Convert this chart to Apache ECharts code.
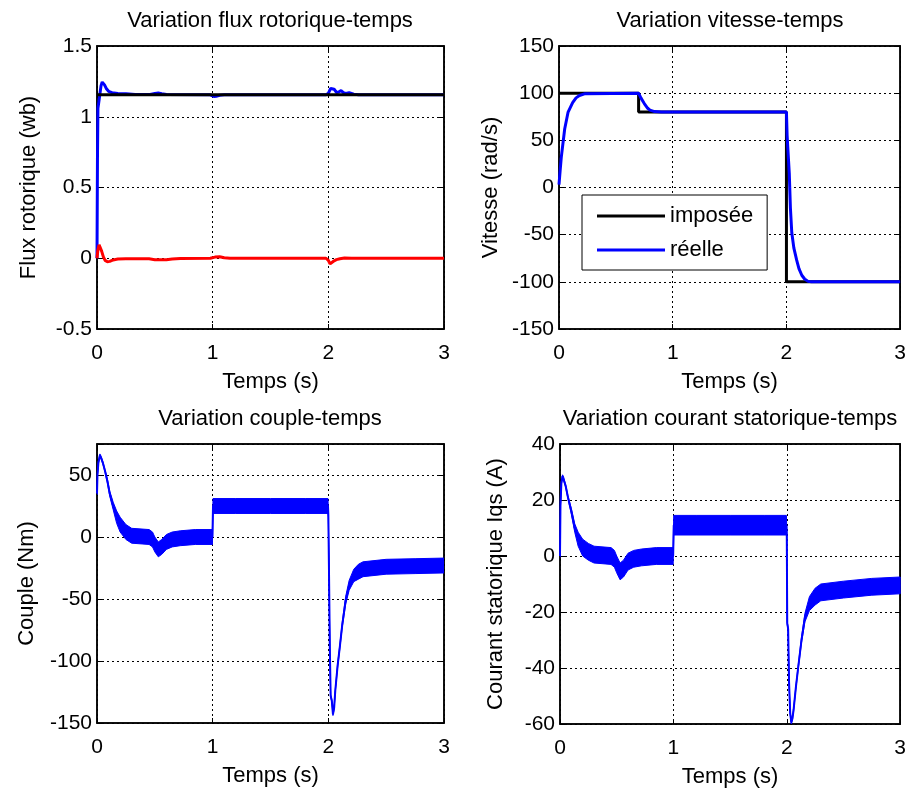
<!DOCTYPE html>
<html><head><meta charset="utf-8">
<script src="https://cdn.jsdelivr.net/npm/echarts@6/dist/echarts.min.js"></script>
<style>html,body{margin:0;padding:0;background:#fff}#c{width:909px;height:789px}</style>
</head><body><div id="c"></div>
<script>
// ---------- data ----------
const fluxRefT = [0, 3];
const fluxRefV = [1.155, 1.155];
const fluxDT = [0, 0.004, 0.008, 0.015, 0.025, 0.035, 0.045, 0.055, 0.065, 0.08, 0.1, 0.13, 0.18, 0.25, 0.33, 0.46, 0.5, 0.53, 0.56, 0.6, 0.98, 1.01, 1.03, 1.06, 1.1, 1.98, 2.0, 2.02, 2.035, 2.05, 2.07, 2.09, 2.11, 2.13, 2.15, 2.18, 2.22, 2.26, 3.0];
const fluxDV = [0, 0.7, 1.06, 1.1, 1.16, 1.22, 1.245, 1.24, 1.225, 1.2, 1.18, 1.17, 1.165, 1.163, 1.158, 1.157, 1.165, 1.168, 1.163, 1.157, 1.155, 1.143, 1.145, 1.152, 1.155, 1.155, 1.165, 1.2, 1.21, 1.195, 1.172, 1.175, 1.185, 1.17, 1.165, 1.17, 1.16, 1.155, 1.155];
const fluxQT = [0, 0.008, 0.018, 0.028, 0.04, 0.055, 0.07, 0.09, 0.11, 0.14, 0.18, 0.25, 0.45, 0.5, 0.55, 0.6, 0.65, 0.72, 0.98, 1.02, 1.06, 1.1, 1.15, 1.98, 2.0, 2.015, 2.03, 2.05, 2.07, 2.1, 2.14, 2.2, 3.0];
const fluxQV = [0, 0.06, 0.095, 0.09, 0.05, 0.01, -0.015, -0.025, -0.022, -0.012, -0.006, -0.003, -0.004, -0.01, -0.011, -0.01, -0.006, -0.002, 0, 0.008, 0.01, 0.003, 0, 0, -0.015, -0.04, -0.035, -0.018, -0.01, -0.004, 0.002, 0, 0];

const speedRefT = [0, 0.7, 0.7, 2, 2, 3];
const speedRefV = [100, 100, 80, 80, -100, -100];
const speedT = [0, 0.01, 0.02, 0.03, 0.05, 0.08, 0.1, 0.12, 0.15, 0.18, 0.23, 0.7, 0.72, 0.75, 0.78, 0.8, 0.84, 0.9, 2.0, 2.006, 2.012, 2.025, 2.035, 2.047, 2.065, 2.09, 2.11, 2.135, 2.16, 2.19, 2.22, 3.0];
const speedV = [3, 18, 32, 42, 62, 80, 85, 90, 95, 97.5, 99.5, 100, 95, 89, 84, 82, 80.5, 80, 80, 55, 42, 15, -22, -48, -64, -77, -86, -93, -97, -99.5, -100, -100];

const torqueT = [0, 0.004, 0.012, 0.025, 0.035, 0.05, 0.07, 0.09, 0.11, 0.14, 0.17, 0.2, 0.25, 0.3, 0.45, 0.48, 0.5, 0.53, 0.56, 0.6, 0.65, 0.72, 0.85, 0.998, 1.003, 1.2, 1.5, 1.8, 1.997, 2.0, 2.006, 2.013, 2.02, 2.03, 2.04, 2.05, 2.06, 2.08, 2.1, 2.12, 2.15, 2.18, 2.22, 2.26, 2.3, 2.5, 2.75, 3.0];
const torqueV = [35, 50, 60, 66, 64, 60, 53, 45, 35, 25, 16, 10, 4, 1, 0, -2, -6, -10, -8, -4, -2, -1, 0, 0, 25, 25, 25, 25, 25, 18, -30, -90, -128, -132, -143, -138, -124, -104, -88, -71, -51, -39, -31, -28, -26, -24, -23.5, -23];
const torqueRipple = [1, 1, 1, 1, 1, 1, 1, 1.5, 2, 3, 5, 6, 6, 6, 6, 6, 6, 6, 6, 6, 6, 6, 6, 6, 6, 6, 6, 6, 6, 2, 1, 1, 1, 1, 1, 1, 1, 1.5, 1.5, 2, 3, 4, 5, 6, 6, 6, 6, 6];

const currentT = [0, 0.004, 0.012, 0.022, 0.03, 0.05, 0.07, 0.1, 0.13, 0.16, 0.2, 0.25, 0.3, 0.45, 0.48, 0.5, 0.53, 0.56, 0.6, 0.65, 0.72, 0.85, 0.998, 1.003, 1.2, 1.5, 1.8, 1.997, 2.0, 2.004, 2.012, 2.02, 2.03, 2.04, 2.05, 2.06, 2.08, 2.1, 2.13, 2.16, 2.2, 2.25, 2.3, 2.5, 2.75, 3.0];
const currentV = [0, 18, 26, 28.5, 28, 25, 21, 16, 10, 6, 3, 1.5, 0.5, 0, -1, -3, -5.5, -4.5, -2, -1, -0.5, 0, 0, 11, 11, 11, 11, 11, 8, -24, -26, -45, -56, -59.5, -58, -55, -47, -40, -30, -22, -17, -14.5, -13, -12, -11, -10.5];
const currentRipple = [0.5, 0.5, 0.5, 0.5, 0.5, 0.5, 0.5, 1, 1.5, 2.5, 3, 3, 3, 3, 3, 3, 3, 3, 3, 3, 3, 3, 3, 3.5, 3.5, 3.5, 3.5, 3.5, 1, 0.5, 0.5, 0.5, 0.5, 0.5, 0.5, 0.5, 0.5, 0.7, 1, 1.5, 2.5, 3, 3, 3, 3, 3];

const titles = ['Variation flux rotorique-temps', 'Variation vitesse-temps', 'Variation couple-temps', 'Variation courant statorique-temps'];
const yNames = ['Flux rotorique (wb)', 'Vitesse (rad/s)', 'Couple (Nm)', 'Courant statorique Iqs (A)'];
const xName = 'Temps (s)';
const yRanges = [[-0.5, 1.5, 0.5], [-150, 150, 50], [-150, 75, 50], [-60, 40, 20]];
const xRange = [0, 3, 1];
const legendNames = ['imposée', 'réelle'];

// ---------- layout / style ----------
const FONT = "'Liberation Sans', Arial, sans-serif";
const FS = 22;     // titles, axis names, legend
const FT = 21;     // tick labels
const grids = [
  {left: 97, top: 46, width: 347, height: 283},
  {left: 559, top: 46, width: 343, height: 283},
  {left: 97, top: 444, width: 347, height: 279},
  {left: 560, top: 444, width: 341, height: 280}
];
const yNameGaps = [57, 57, 59, 53];

const zip = (T, V) => T.map((t, i) => [t, V[i]]);
const dotted = {color: '#000', width: 1, type: [2, 3]};

const xAxes = [], yAxes = [];
grids.forEach((g, i) => {
  const yr = yRanges[i];
  xAxes.push({
    type: 'value', gridIndex: i, min: xRange[0], max: xRange[1], interval: xRange[2],
    position: 'bottom',
    name: xName, nameLocation: 'middle', nameGap: 42,
    nameTextStyle: {fontFamily: FONT, fontSize: FS, color: '#000'},
    axisLine: {show: true, onZero: false, lineStyle: {color: '#000', width: 1.5}},
    axisTick: {show: true, inside: true, length: 5, lineStyle: {color: '#000'}},
    axisLabel: {fontFamily: FONT, fontSize: FT, color: '#000', margin: 14},
    splitLine: {show: true, lineStyle: dotted}
  });
  xAxes.push({
    type: 'value', gridIndex: i, min: xRange[0], max: xRange[1], interval: xRange[2],
    position: 'top',
    axisLine: {show: true, onZero: false, lineStyle: {color: '#000', width: 1.5}},
    axisTick: {show: true, inside: true, length: 5, lineStyle: {color: '#000'}},
    axisLabel: {show: false}, splitLine: {show: false}
  });
  yAxes.push({
    type: 'value', gridIndex: i, min: yr[0], max: yr[1], interval: yr[2],
    position: 'left',
    name: yNames[i], nameLocation: 'middle', nameGap: yNameGaps[i],
    nameTextStyle: {fontFamily: FONT, fontSize: FS, color: '#000'},
    axisLine: {show: true, onZero: false, lineStyle: {color: '#000', width: 1.5}},
    axisTick: {show: true, inside: true, length: 5, lineStyle: {color: '#000'}},
    axisLabel: {fontFamily: FONT, fontSize: FT, color: '#000', margin: 5,
      formatter: v => ((v - yr[0]) % yr[2] === 0 ? String(v) : '')},
    splitLine: {show: true, lineStyle: dotted}
  });
  yAxes.push({
    type: 'value', gridIndex: i, min: yr[0], max: yr[1], interval: yr[2],
    position: 'right',
    axisLine: {show: true, onZero: false, lineStyle: {color: '#000', width: 1.5}},
    axisTick: {show: true, inside: true, length: 5, lineStyle: {color: '#000'}},
    axisLabel: {show: false}, splitLine: {show: false}
  });
});

function line(gi, T, V, color, width, name, z) {
  return {
    type: 'line', name: name, xAxisIndex: gi * 2, yAxisIndex: gi * 2,
    data: zip(T, V), showSymbol: false, symbol: 'none', animation: false,
    lineStyle: {color: color, width: width}, itemStyle: {color: color},
    z: z || 2, clip: true, silent: true
  };
}
function band(gi, T, V, R, color) {
  return {
    type: 'custom', xAxisIndex: gi * 2, yAxisIndex: gi * 2, clip: true, silent: true,
    animation: false, data: [[T[0], V[0]]], z: 2,
    renderItem: function (params, api) {
      const pts = [];
      for (let i = 0; i < T.length; i++) pts.push(api.coord([T[i], V[i] + R[i]]));
      for (let i = T.length - 1; i >= 0; i--) pts.push(api.coord([T[i], V[i] - R[i]]));
      return {type: 'polygon', shape: {points: pts}, style: {fill: color, stroke: color, lineWidth: 1}};
    }
  };
}

const series = [
  line(0, fluxDT, fluxDV, '#0000ff', 3, null, 2),
  line(0, fluxRefT, fluxRefV, '#000000', 3, null, 3),
  line(0, fluxQT, fluxQV, '#ff0000', 3, null, 3),
  line(1, speedRefT, speedRefV, '#000000', 3, legendNames[0], 2),
  line(1, speedT, speedV, '#0000ff', 3, legendNames[1], 3),
  band(2, torqueT, torqueV, torqueRipple, '#0000ff'),
  line(2, torqueT, torqueV, '#0000ff', 2, null, 3),
  band(3, currentT, currentV, currentRipple, '#0000ff'),
  line(3, currentT, currentV, '#0000ff', 2, null, 3)
];

const titleCenters = [[270, 10], [730, 10], [270, 408], [730, 408]];
const option = {
  backgroundColor: '#fff',
  animation: false,
  title: titles.map((t, i) => ({
    text: t, left: titleCenters[i][0], top: titleCenters[i][1], textAlign: 'center', padding: 0,
    textStyle: {fontFamily: FONT, fontSize: FS, fontWeight: 'normal', color: '#000'}
  })),
  grid: grids.map(g => Object.assign({show: true, borderColor: '#000', borderWidth: 1.5, backgroundColor: '#fff', containLabel: false}, g)),
  xAxis: xAxes,
  yAxis: yAxes,
  legend: {
    data: legendNames, orient: 'vertical', left: 582, top: 195,
    icon: 'rect', itemWidth: 68, itemHeight: 3, itemGap: 12, selectedMode: false,
    padding: [10, 14, 9, 15], borderColor: '#000', borderWidth: 1, backgroundColor: '#fff',
    borderRadius: 0,
    textStyle: {fontFamily: FONT, fontSize: FS, color: '#000'}
  },
  series: series
};
const chart = echarts.init(document.getElementById('c'), null, {renderer: 'canvas'});
chart.setOption(option);
</script></body></html>
